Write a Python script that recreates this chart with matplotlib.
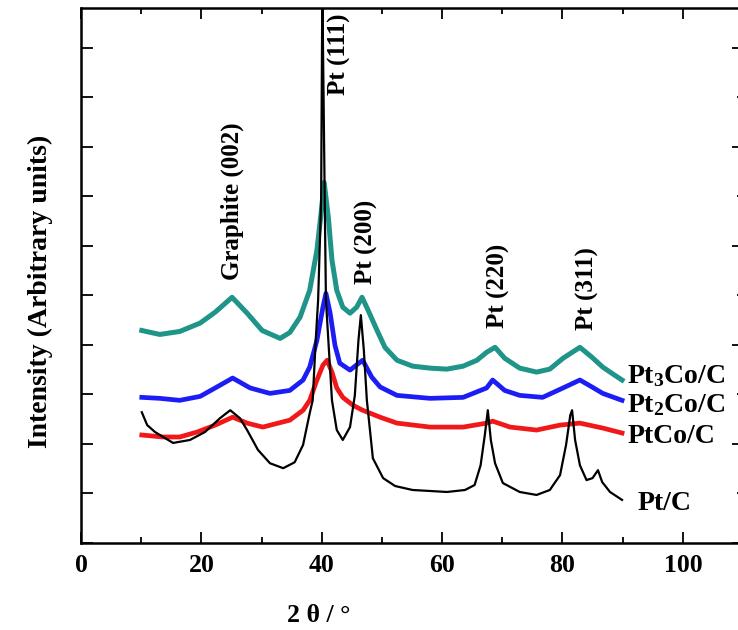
import matplotlib
matplotlib.use("Agg")
import matplotlib.pyplot as plt
from matplotlib.ticker import MultipleLocator, NullFormatter

plt.rcParams['font.family'] = ['Liberation Serif', 'DejaVu Serif']
plt.rcParams['font.weight'] = 'bold'
plt.rcParams['mathtext.fontset'] = 'custom'
plt.rcParams['mathtext.rm'] = 'Liberation Serif:bold'
plt.rcParams['mathtext.bf'] = 'Liberation Serif:bold'
plt.rcParams['mathtext.default'] = 'rm'

# ---- data (2theta in degrees, offset intensity in arbitrary units) ----
pt3co_x = [10.1, 13.1, 16.4, 19.8, 22.3, 25.1, 27.6, 30.1, 33.1, 34.7, 36.4, 38.0, 39.2, 40.0, 40.4,
           41.1, 41.7, 42.5, 43.5, 44.7, 45.8, 46.7, 47.7, 49.2, 50.5, 52.5, 55.1, 58.0, 60.8, 63.5,
           65.8, 67.4, 68.8, 70.4, 72.9, 75.7, 77.9, 80.1, 82.9, 84.9, 86.7, 88.4, 89.9]
pt3co_y = [4.29, 4.21, 4.27, 4.44, 4.66, 4.96, 4.64, 4.29, 4.13, 4.25, 4.56, 5.10, 5.91, 6.77, 7.28,
           6.57, 5.71, 5.10, 4.76, 4.64, 4.76, 4.96, 4.70, 4.29, 3.95, 3.69, 3.57, 3.53, 3.51, 3.57,
           3.69, 3.85, 3.95, 3.73, 3.53, 3.45, 3.51, 3.73, 3.95, 3.75, 3.55, 3.41, 3.29]

pt2co_x = [10.1, 13.1, 16.4, 19.8, 22.3, 25.2, 28.1, 31.4, 34.7, 36.9, 38.0, 39.2, 40.2, 40.7, 41.4,
           42.2, 43.0, 44.7, 46.8, 48.3, 49.7, 52.5, 58.0, 63.5, 67.4, 68.4, 70.4, 72.9, 76.7, 80.1,
           82.9, 84.9, 86.7, 89.9]
pt2co_y = [2.94, 2.92, 2.88, 2.96, 3.13, 3.33, 3.13, 3.02, 3.08, 3.29, 3.55, 4.09, 4.76, 5.04, 4.64,
           3.99, 3.63, 3.49, 3.69, 3.35, 3.15, 2.98, 2.92, 2.94, 3.13, 3.29, 3.08, 2.98, 2.94, 3.13,
           3.29, 3.15, 3.02, 2.88]

ptco_x = [10.1, 13.6, 16.4, 19.3, 22.3, 25.2, 27.6, 30.2, 34.7, 36.9, 38.0, 39.2, 40.2, 40.9, 41.7,
          42.5, 43.5, 45.2, 46.8, 49.7, 52.5, 58.0, 63.5, 67.4, 68.4, 71.3, 75.7, 79.6, 82.9, 86.7, 89.9]
ptco_y = [2.18, 2.14, 2.14, 2.24, 2.38, 2.54, 2.42, 2.34, 2.48, 2.68, 2.88, 3.29, 3.59, 3.69, 3.45,
          3.13, 2.94, 2.78, 2.68, 2.54, 2.42, 2.34, 2.34, 2.42, 2.46, 2.34, 2.28, 2.38, 2.42, 2.32, 2.22]

ptc_x = [10.1, 11.0, 12.3, 15.3, 18.1, 20.6, 23.1, 24.8, 26.4, 27.6, 29.4, 31.4, 33.6, 35.5, 36.9,
         38.0, 38.5, 39.0, 39.4, 39.9, 40.1, 40.5, 40.7, 41.7, 42.5, 43.5, 44.7, 45.5, 46.1, 46.5,
         47.0, 47.5, 48.5, 50.2, 52.2, 55.1, 58.0, 60.8, 63.8, 65.4, 66.4, 67.1, 67.6, 68.1, 68.8,
         70.1, 72.9, 75.7, 77.9, 79.6, 80.6, 81.3, 81.6, 82.1, 82.9, 84.0, 85.0, 85.9, 86.6, 87.9, 89.9]
ptc_y = [2.64, 2.38, 2.24, 2.02, 2.08, 2.24, 2.52, 2.68, 2.52, 2.28, 1.88, 1.61, 1.51, 1.63, 1.98,
         2.62, 2.88, 4.09, 4.90, 6.92, 11.2, 6.92, 4.90, 2.88, 2.28, 2.08, 2.34, 2.98, 4.09, 4.60,
         3.89, 2.88, 1.71, 1.31, 1.15, 1.07, 1.05, 1.03, 1.07, 1.17, 1.57, 2.18, 2.68, 2.08, 1.61,
         1.21, 1.03, 0.97, 1.07, 1.37, 1.98, 2.58, 2.68, 2.08, 1.57, 1.27, 1.31, 1.47, 1.23, 1.03, 0.87]

series_labels = ['Pt$_3$Co/C', 'Pt$_2$Co/C', 'PtCo/C', 'Pt/C']
peak_labels = ['Graphite (002)', 'Pt (111)', 'Pt (200)', 'Pt (220)', 'Pt (311)']
peak_label_x = [25.2, 42.9, 47.5, 69.3, 84.1]
peak_label_y = [6.90, 9.86, 6.07, 5.20, 5.14]
xticks = [0, 20, 40, 60, 80, 100]

# ---- figure ----
fig = plt.figure(figsize=(7.38, 6.3), dpi=100)
ax = fig.add_axes([81/738, 87/630, 662/738, 535/630])

ax.plot(pt3co_x, pt3co_y, color='#1f9488', lw=3.6, solid_joinstyle='round')
ax.plot(pt2co_x, pt2co_y, color='#1c1cf5', lw=3.4, solid_joinstyle='round')
ax.plot(ptco_x, ptco_y, color='#f01818', lw=3.4, solid_joinstyle='round')
ax.plot(ptc_x, ptc_y, color='black', lw=1.6, solid_joinstyle='round')

ax.set_xlim(0, 110)
ax.set_ylim(0, 10.8)
ax.set_xticks(xticks)
ax.set_xticklabels([str(t) for t in xticks])
ax.xaxis.set_minor_locator(MultipleLocator(10))
ax.yaxis.set_major_locator(MultipleLocator(1))
ax.yaxis.set_major_formatter(NullFormatter())

ax.tick_params(axis='x', which='major', direction='in', length=8, width=1.3,
               top=True, bottom=True, labelsize=18.5, pad=8)
ax.tick_params(axis='x', which='minor', direction='in', length=4.5, width=1.3,
               top=True, bottom=True)
ax.tick_params(axis='y', which='major', direction='in', length=8.5, width=1.3,
               left=True, right=False)
for lab in ax.get_xticklabels():
    lab.set_fontweight('bold')

sec = ax.secondary_yaxis('right')
sec.yaxis.set_major_locator(MultipleLocator(2))
sec.yaxis.set_minor_locator(MultipleLocator(1))
sec.yaxis.set_major_formatter(NullFormatter())
sec.tick_params(axis='y', which='major', direction='in', length=8, width=1.3)
sec.tick_params(axis='y', which='minor', direction='in', length=4, width=1.3)
sec.spines['right'].set_linewidth(1.8)

for s in ax.spines.values():
    s.set_linewidth(1.8)

for txt, x, y in zip(peak_labels, peak_label_x, peak_label_y):
    ax.text(x, y, txt, rotation=90, ha='center', va='center',
            fontsize=18, fontweight='bold')

ax.text(90.8, 3.23, series_labels[0], fontsize=20, fontweight='bold', va='baseline', ha='left')
ax.text(90.8, 2.64, series_labels[1], fontsize=20, fontweight='bold', va='baseline', ha='left')
ax.text(90.8, 2.02, series_labels[2], fontsize=20, fontweight='bold', va='baseline', ha='left')
ax.text(92.4, 0.67, series_labels[3], fontsize=20, fontweight='bold', va='baseline', ha='left')

fig.text(319/738, 1 - 616/630, '2 θ / °', ha='center', va='center', fontsize=18.5, fontweight='bold')
fig.text(40/738, 1 - 291/630, 'Intensity (Arbitrary units)', rotation=90,
         ha='center', va='center', fontsize=20, fontweight='bold')

fig.savefig('out.png', dpi=100)
